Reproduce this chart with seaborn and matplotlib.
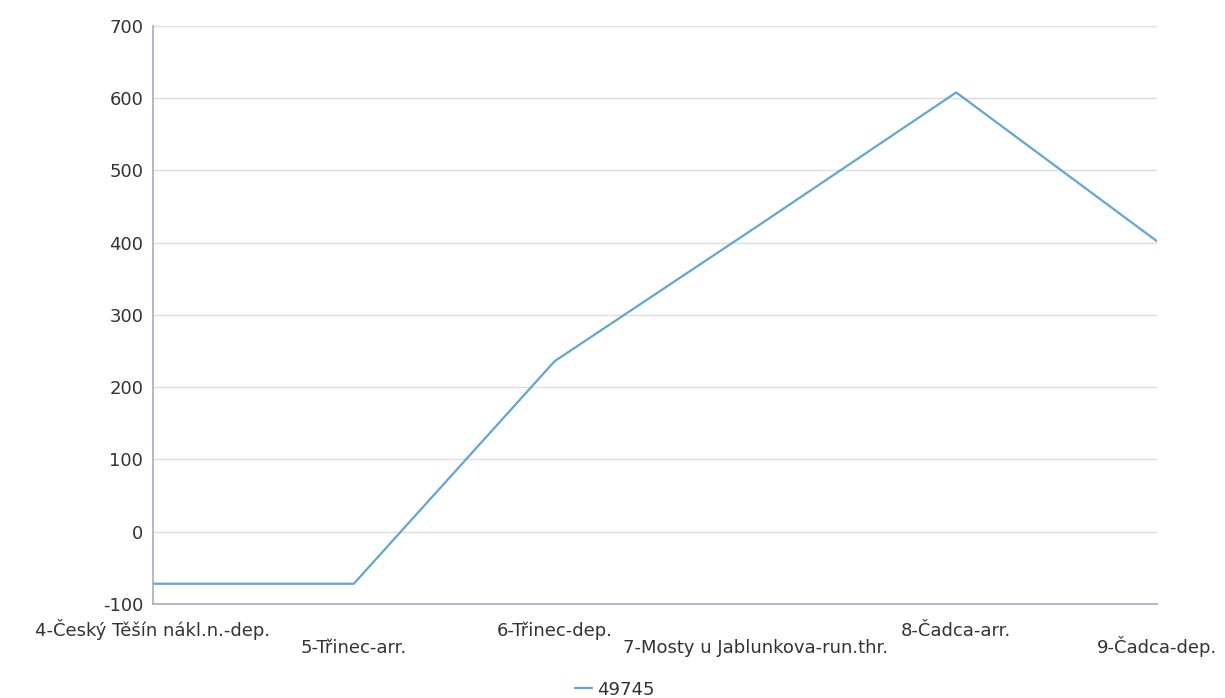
import matplotlib
matplotlib.use('Agg')
import matplotlib.pyplot as plt
import seaborn as sns
import pandas as pd

# data
stops = ['4-Český Těšín nákl.n.-dep.', '5-Třinec-arr.', '6-Třinec-dep.',
         '7-Mosty u Jablunkova-run.thr.', '8-Čadca-arr.', '9-Čadca-dep.']
delays = [-72, -72, 236, 421, 608, 402]
train = '49745'

sns.set_theme(style='white')
plt.rcParams['font.family'] = ['DejaVu Sans']
plt.rcParams['axes.unicode_minus'] = False

df = pd.DataFrame({'stop': stops, 'delay': delays, 'train': train})

fig = plt.figure(figsize=(12.25, 6.98), dpi=100)
ax = fig.add_axes([0.1249, 0.1347, 0.9445 - 0.1249, 0.9628 - 0.1347])

sns.lineplot(data=df, x='stop', y='delay', hue='train', sort=False,
             palette=['#62a6d2'], linewidth=1.6, ax=ax, legend=True)

ax.set_xlim(0, len(stops) - 1)
ax.set_ylim(-100, 700)
ax.set_yticks(range(-100, 701, 100))
ax.yaxis.grid(True, color='#dcdce6', linewidth=1)
ax.set_axisbelow(True)

# staggered category labels, two rows, aligned on the baseline of the last line
ax.set_xticks(range(len(stops)))
ax.set_xticklabels([s + '\n' if i % 2 == 0 else '\n' + s for i, s in enumerate(stops)],
                   fontsize=13, color='#333333', linespacing=0.9, va='baseline')
ax.tick_params(axis='x', length=0, pad=35)
ax.tick_params(axis='y', length=0, pad=7, labelsize=13, labelcolor='#333333')

for side in ['top', 'right']:
    ax.spines[side].set_visible(False)
for side in ['left', 'bottom']:
    ax.spines[side].set_color('#a8a8c8')
    ax.spines[side].set_linewidth(1.2)

ax.set_xlabel('')
ax.set_ylabel('')

ax.legend(loc='lower center', bbox_to_anchor=(0.502, -0.024), bbox_transform=fig.transFigure,
          frameon=False, handlelength=0.9, handletextpad=0.3, fontsize=13,
          labelcolor='#333333')

fig.savefig('out.png', dpi=100)
